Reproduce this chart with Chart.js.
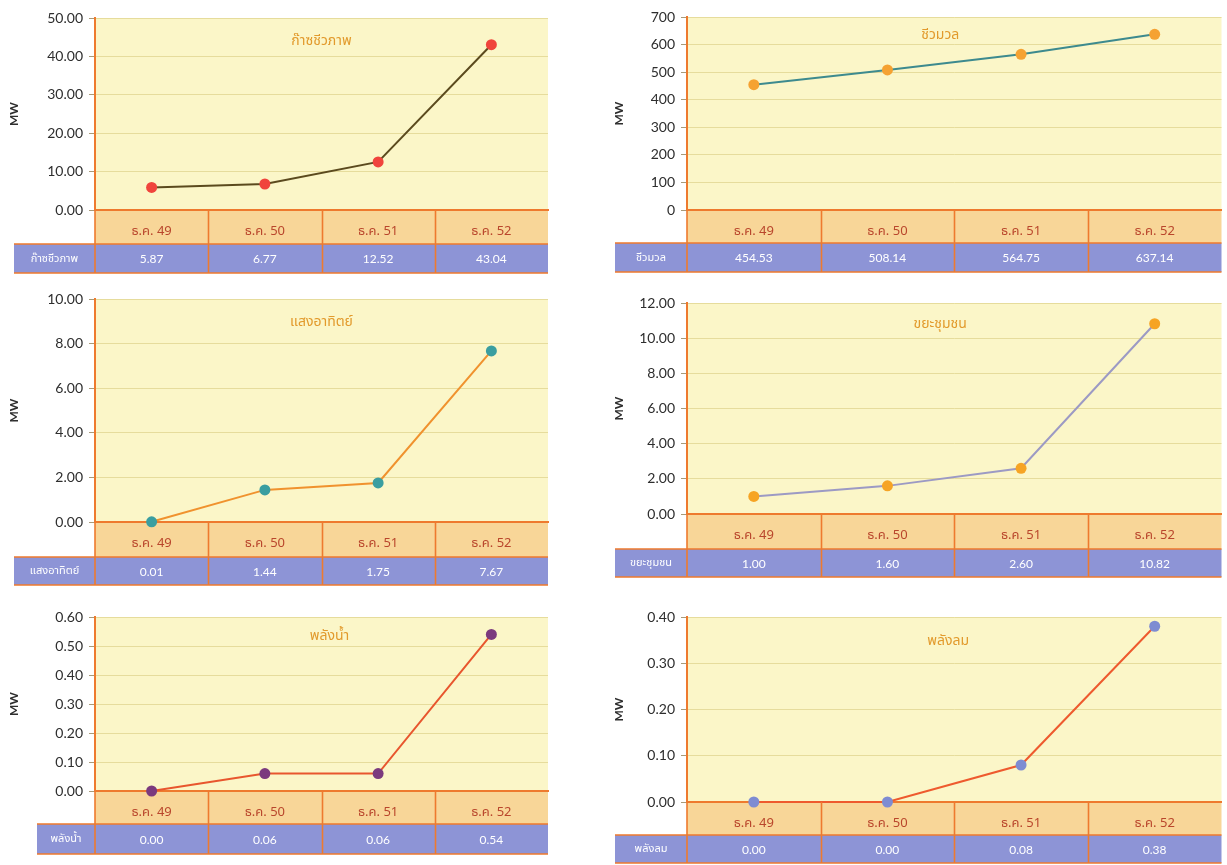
<!DOCTYPE html>
<html lang="th">
<head>
<meta charset="utf-8">
<title>กำลังการผลิตไฟฟ้าจากพลังงานหมุนเวียน</title>
<script src="https://cdn.jsdelivr.net/npm/chart.js@4.4.1/dist/chart.umd.min.js"></script>
<style>
  html, body { margin: 0; padding: 0; background: #ffffff; }
  body { position: relative; width: 1227px; height: 865px; overflow: hidden; }
  canvas { position: absolute; display: block; }
</style>
</head>
<body>
<canvas id="c0"></canvas>
<canvas id="c1"></canvas>
<canvas id="c2"></canvas>
<canvas id="c3"></canvas>
<canvas id="c4"></canvas>
<canvas id="c5"></canvas>
<script>
// ---- data -------------------------------------------------------------
const periods = ['ธ.ค. 49', 'ธ.ค. 50', 'ธ.ค. 51', 'ธ.ค. 52'];

const biogas  = [5.87, 6.77, 12.52, 43.04];
const biomass = [454.53, 508.14, 564.75, 637.14];
const solar   = [0.01, 1.44, 1.75, 7.67];
const waste   = [1.00, 1.60, 2.60, 10.82];
const hydro   = [0.00, 0.06, 0.06, 0.54];
const wind    = [0.00, 0.00, 0.08, 0.38];

const seriesNames  = ['ก๊าซชีวภาพ', 'ชีวมวล', 'แสงอาทิตย์', 'ขยะชุมชน', 'พลังน้ำ', 'พลังลม'];
const seriesValues = [biogas, biomass, solar, waste, hydro, wind];

const axisMax      = [50, 700, 10, 12, 0.6, 0.4];
const axisStep     = [10, 100, 2, 2, 0.1, 0.1];
const tickDecimals = [2, 0, 2, 2, 2, 2];
const unitLabel    = 'MW';

// ---- look & placement --------------------------------------------------
const THAI = '"Noto Sans Thai", "Noto Sans", "DejaVu Sans", sans-serif';
const NUM  = 'Lato, "Open Sans", sans-serif';

const PLOT_BG  = '#FBF6C8';
const GRID     = '#E6DC9C';
const EDGE     = '#EE7A2E';
const CAT_BG   = '#F8D698';
const CAT_TEXT = '#B9462C';
const TABLE_BG = '#8D94D6';
const TITLE_C  = '#E29A2C';

// page coordinates of each panel's frame
const panels = [
  { left: 0,   width: 560, top: 0,   height: 280, plotTop: 18,  zeroY: 210, catBottom: 244, tableBottom: 273, tableLeft: 14,  axisX: 95,  right: 548,  titleDx: 0,   titleDy: 24, line: '#5B4A1E', dot: '#F0443C' },
  { left: 600, width: 627, top: 0,   height: 280, plotTop: 17,  zeroY: 210, catBottom: 243, tableBottom: 272, tableLeft: 615, axisX: 687, right: 1224, titleDx: -14, titleDy: 19, line: '#3D8A8E', dot: '#F5A232' },
  { left: 0,   width: 560, top: 282, height: 308, plotTop: 299, zeroY: 522, catBottom: 557, tableBottom: 585, tableLeft: 14,  axisX: 95,  right: 548,  titleDx: 0,   titleDy: 24, line: '#F0922E', dot: '#3A9EA0' },
  { left: 600, width: 627, top: 286, height: 296, plotTop: 303, zeroY: 514, catBottom: 549, tableBottom: 577, tableLeft: 615, axisX: 687, right: 1224, titleDx: -14, titleDy: 22, line: '#9C9AC4', dot: '#F6A424' },
  { left: 0,   width: 560, top: 600, height: 265, plotTop: 617, zeroY: 791, catBottom: 824, tableBottom: 854, tableLeft: 37,  axisX: 95,  right: 548,  titleDx: 8,   titleDy: 20, line: '#E8562E', dot: '#7B3A7E' },
  { left: 600, width: 627, top: 600, height: 265, plotTop: 617, zeroY: 802, catBottom: 835, tableBottom: 863, tableLeft: 615, axisX: 687, right: 1224, titleDx: -6,  titleDy: 25, line: '#EE5A2E', dot: '#7E8CD2' }
];

// background bands, cell grid, value row and in-plot caption
const panelFrame = {
  id: 'panelFrame',
  beforeDraw(chart, args, o) {
    const { ctx, chartArea: a } = chart;
    const yCat = a.bottom + o.catH;
    ctx.save();
    ctx.fillStyle = PLOT_BG;
    ctx.fillRect(a.left, a.top, a.right - a.left, a.bottom - a.top);
    ctx.fillStyle = CAT_BG;
    ctx.fillRect(a.left, a.bottom, a.right - a.left, o.catH);
    ctx.fillStyle = TABLE_BG;
    ctx.fillRect(o.tableLeft, yCat, a.right - o.tableLeft, o.tableH);
    ctx.restore();
  },
  afterDraw(chart, args, o) {
    const { ctx, chartArea: a } = chart;
    const xs = chart.scales.x;
    const values = chart.data.datasets[0].data;
    const n = chart.data.labels.length;
    const yCat = a.bottom + o.catH;
    const yEnd = yCat + o.tableH;

    ctx.save();
    ctx.strokeStyle = EDGE;
    ctx.lineWidth = 1.6;
    ctx.beginPath();
    // vertical cell dividers
    ctx.moveTo(a.left, a.bottom); ctx.lineTo(a.left, yEnd);
    for (let i = 1; i < n; i++) {
      const px = Math.round((xs.getPixelForValue(i - 1) + xs.getPixelForValue(i)) / 2) + 0.5;
      ctx.moveTo(px, a.bottom); ctx.lineTo(px, yEnd);
    }
    // row separators
    ctx.moveTo(o.tableLeft, yCat); ctx.lineTo(a.right, yCat);
    ctx.moveTo(o.tableLeft, yEnd); ctx.lineTo(a.right, yEnd);
    ctx.stroke();

    // value row
    ctx.fillStyle = '#FFFFFF';
    ctx.textAlign = 'center';
    ctx.textBaseline = 'middle';
    ctx.font = '12px ' + NUM;
    values.forEach((v, i) => {
      ctx.fillText(v.toFixed(2), xs.getPixelForValue(i), (yCat + yEnd) / 2 + 1);
    });
    ctx.font = '11px ' + THAI;
    ctx.fillText(chart.data.datasets[0].label, (o.tableLeft + a.left) / 2, (yCat + yEnd) / 2 + 1);

    // caption inside plot
    ctx.fillStyle = TITLE_C;
    ctx.font = '14px ' + THAI;
    ctx.fillText(chart.data.datasets[0].label, (a.left + a.right) / 2 + o.titleDx, a.top + o.titleDy);
    ctx.restore();
  }
};

panels.forEach((p, k) => {
  const canvas = document.getElementById('c' + k);
  canvas.width = p.width;
  canvas.height = p.height;
  canvas.style.left = p.left + 'px';
  canvas.style.top = p.top + 'px';

  const xAxisH = p.tableBottom - p.zeroY;
  const yAxisW = p.axisX - p.left;
  const bottomPad = (p.top + p.height) - p.tableBottom;
  const isRight = p.left > 0;

  new Chart(canvas, {
    type: 'line',
    data: {
      labels: periods,
      datasets: [{
        label: seriesNames[k],
        data: seriesValues[k],
        borderColor: p.line,
        borderWidth: 2,
        backgroundColor: p.dot,
        pointBackgroundColor: p.dot,
        pointBorderColor: p.dot,
        pointBorderWidth: 0,
        pointRadius: 5.5,
        tension: 0,
        clip: false
      }]
    },
    options: {
      responsive: false,
      animation: false,
      devicePixelRatio: 1,
      events: [],
      layout: {
        padding: { left: 0, right: (p.left + p.width) - p.right, top: p.plotTop - p.top, bottom: bottomPad }
      },
      plugins: {
        legend: { display: false },
        tooltip: { enabled: false },
        panelFrame: {
          catH: p.catBottom - p.zeroY,
          tableH: p.tableBottom - p.catBottom,
          tableLeft: p.tableLeft - p.left,
          titleDx: p.titleDx,
          titleDy: p.titleDy
        }
      },
      scales: {
        x: {
          type: 'category',
          offset: true,
          afterFit(scale) { scale.height = xAxisH; },
          grid: { display: false, offset: true },
          border: { display: true, color: EDGE, width: 2 },
          ticks: {
            color: CAT_TEXT,
            font: { family: THAI, size: 13 },
            padding: 7,
            maxRotation: 0,
            autoSkip: false
          }
        },
        y: {
          type: 'linear',
          min: 0,
          max: axisMax[k],
          afterFit(scale) { scale.width = yAxisW; },
          grid: { color: GRID, lineWidth: 1, tickLength: 6, tickColor: '#A89A78', tickWidth: 1 },
          border: { display: true, color: EDGE, width: 2 },
          ticks: {
            stepSize: axisStep[k],
            color: '#2E2E2E',
            font: { family: NUM, size: 14 },
            padding: 6,
            callback: (v) => Number(v).toFixed(tickDecimals[k])
          },
          title: {
            display: true,
            text: unitLabel,
            color: '#2E2E2E',
            font: { family: NUM, size: 12, weight: 'bold' },
            padding: { top: isRight ? 12 : 7, bottom: 0 }
          }
        }
      }
    },
    plugins: [panelFrame]
  });
});
</script>
</body>
</html>
